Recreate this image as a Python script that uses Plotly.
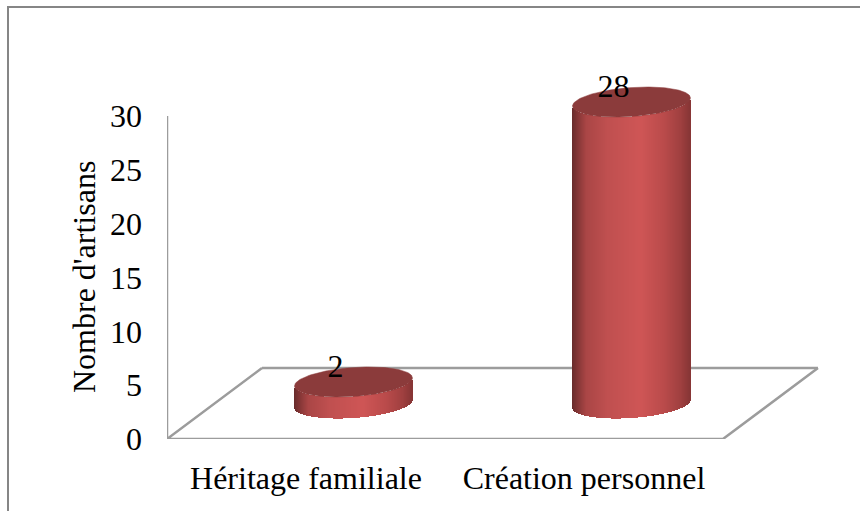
import numpy as np
import plotly.graph_objects as go

categories = ["Héritage familiale", "Création personnel"]
values = [2, 28]
y_ticks = [0, 5, 10, 15, 20, 25, 30]
y_title = "Nombre d'artisans"

W, H = 860, 511
ML, MR, MT, MB = 167, 0, 0, 72
XMIN, XMAX = -0.5, 1.993
PX_PER_UNIT = 323 / 30
YMIN, YMAX = 0, (H - MT - MB) / PX_PER_UNIT
px_x = (W - ML - MR) / (XMAX - XMIN)
px_y = PX_PER_UNIT

DEPTH_X, DEPTH_Y = 95 / px_x, 71 / px_y      # floor depth
RADIUS_X = 59 / px_x
RADIUS_Y = 14.5 / px_y
TILT_Y = 4 / px_y
LABEL_DX = -18 / px_x

GREY = "#9c9c9c"
CAP = "#8b3b3b"
FONT = dict(family="Liberation Serif", size=32, color="black")

# gradient stops across the cylinder (fraction, rgb)
stops = [0, .04, .12, .3, .58, .78, .92, 1]
reds = [104, 128, 170, 192, 207, 186, 160, 135]
greens = [44, 52, 70, 80, 86, 75, 64, 54]
blues = [44, 52, 70, 80, 86, 75, 64, 54]

fig = go.Figure()

# floor: back edge goes under the cylinders, other edges drawn as a trace
left, right = -0.5, 1.5
LINE_W = 2.5
fig.add_shape(type="line", x0=left + DEPTH_X, x1=right + DEPTH_X, y0=DEPTH_Y, y1=DEPTH_Y,
              xref="x", yref="y", layer="below", line=dict(color=GREY, width=LINE_W))
fig.add_trace(go.Scatter(
    x=[left + DEPTH_X, left, right, right + DEPTH_X],
    y=[DEPTH_Y, 0, 0, DEPTH_Y],
    mode="lines", line=dict(color=GREY, width=LINE_W), cliponaxis=False,
    hoverinfo="skip", showlegend=False))
# value axis line
fig.add_trace(go.Scatter(
    x=[left, left], y=[y_ticks[0], y_ticks[-1]],
    mode="lines", line=dict(color=GREY, width=LINE_W), cliponaxis=False,
    hoverinfo="skip", showlegend=False))

N = 118
t = np.linspace(0, 2 * np.pi, 181)
for i, v in enumerate(values):
    cx = i + DEPTH_X / 2
    cy = DEPTH_Y / 2
    u = (np.arange(N) + 0.5) / N                     # 0..1 across width
    c = 2 * u - 1
    sx = cx + RADIUS_X * c
    lower = cy + TILT_Y * c - RADIUS_Y * np.sqrt(1 - c ** 2)
    colors = [f"rgb({int(np.interp(a, stops, reds))},{int(np.interp(a, stops, greens))},"
              f"{int(np.interp(a, stops, blues))})" for a in u]
    fig.add_trace(go.Bar(
        x=sx, y=[v] * N, base=lower, width=2 * RADIUS_X / N * 1.15,
        marker=dict(color=colors, line=dict(width=0)),
        hoverinfo="skip", showlegend=False))
    fig.add_trace(go.Scatter(
        x=cx + RADIUS_X * np.cos(t),
        y=cy + v + TILT_Y * np.cos(t) + RADIUS_Y * np.sin(t),
        mode="lines", fill="toself", fillcolor=CAP, line=dict(color=CAP, width=0.5),
        hoverinfo="skip", showlegend=False))
    fig.add_trace(go.Scatter(
        x=[cx + LABEL_DX], y=[cy + v + RADIUS_Y - 0.15],
        mode="text", text=[str(v)], textposition="middle center", textfont=FONT,
        hoverinfo="skip", showlegend=False))

# outer frame (top and left only are visible)
plot_w, plot_h = W - ML - MR, H - MT - MB
fx = (8 - ML) / plot_w
fy = 1 + (MT - 7) / plot_h
fb = -MB / plot_h
fig.add_shape(type="path", xref="paper", yref="paper",
              path=f"M {fx} {fb} L {fx} {fy} L 1.01 {fy}",
              line=dict(color="#868686", width=2))

fig.add_annotation(text=y_title, textangle=-90, font=FONT, showarrow=False,
                   xref="paper", yref="y", x=(83.5 - ML) / plot_w, y=15,
                   xanchor="center", yanchor="middle")

fig.update_layout(
    width=W, height=H, autosize=False,
    margin=dict(l=ML, r=MR, t=MT, b=MB, autoexpand=False),
    paper_bgcolor="white", plot_bgcolor="white",
    barmode="overlay", bargap=0, showlegend=False, font=FONT,
    xaxis=dict(range=[XMIN, XMAX], tickmode="array", tickvals=[0, 1], ticktext=categories,
               showgrid=False, zeroline=False, showline=False, ticks="",
               ticklabelstandoff=17, tickfont=FONT),
    yaxis=dict(range=[YMIN, YMAX], tickmode="array", tickvals=y_ticks,
               showgrid=False, zeroline=False, showline=False,
               ticks="", ticklabelstandoff=24, tickfont=FONT),
)
fig.write_html("out.html", config={"displayModeBar": False},
               post_script="document.body.style.margin='0';")
